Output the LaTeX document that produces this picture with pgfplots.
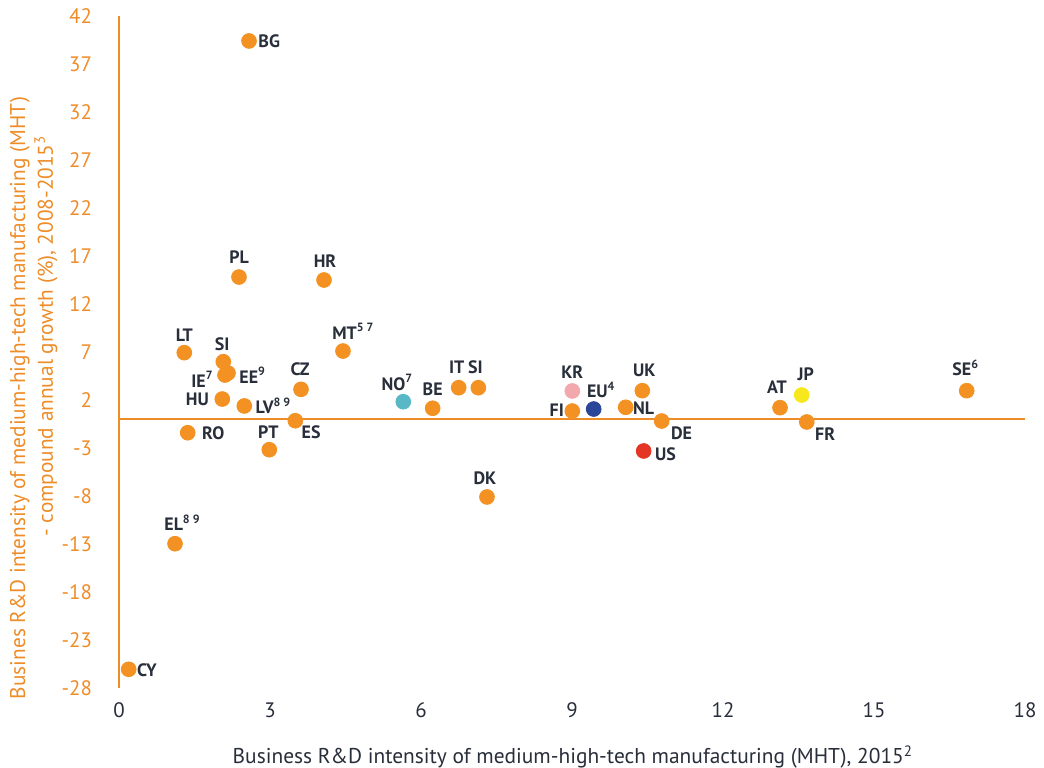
\documentclass[border=0pt]{standalone}
\usepackage{pgfplots}
\pgfplotsset{compat=1.18}
\usepackage{pgfplotstable}
\usepackage{fontspec}
\setmainfont{PT Sans}
\definecolor{eor}{RGB}{243,146,35}
\definecolor{axor}{RGB}{238,140,40}
\definecolor{dark}{RGB}{40,46,58}
\definecolor{krpink}{RGB}{242,168,172}
\definecolor{eublue}{RGB}{41,70,152}
\definecolor{usred}{RGB}{228,54,36}
\definecolor{noteal}{RGB}{88,184,198}
\definecolor{jpyel}{RGB}{246,232,28}
\tikzset{lbl/.style={font=\fontsize{9}{10}\selectfont\bfseries, text=dark, inner sep=0pt}}
\pgfplotsset{dot/.style={only marks, mark=*, mark size=3.7bp, color=#1, mark options={draw=none, fill=#1}}}
\pgfplotstableread{
x y
2.583 39.40
2.384 14.81
4.073 14.50
1.297 6.93
4.450 7.10
2.072 5.99
2.106 4.60
2.166 4.81
3.616 3.11
2.052 2.10
2.489 1.38
3.503 -0.16
1.365 -1.41
2.986 -3.18
6.232 1.14
6.749 3.28
7.139 3.28
7.311 -8.10
9.006 0.85
10.397 2.97
10.067 1.24
10.782 -0.19
13.133 1.20
13.664 -0.29
16.842 2.97
1.113 -12.97
0.193 -26.05
}\orangepts
\begin{document}
\begin{tikzpicture}
\useasboundingbox (-59.5bp,-40bp) rectangle (462.5bp,344bp);
\begin{axis}[
  at={(0,0)}, anchor=south west,
  scale only axis, width=453bp, height=336bp,
  xmin=0, xmax=18, ymin=-28, ymax=42,
  xtick={0,3,...,18}, ytick={-28,-23,...,42},
  axis line style={draw=none}, major tick length=0pt,
  tick label style={font=\fontsize{10.5}{12}\selectfont},
  yticklabel style={text=axor, xshift=-10bp},
  xticklabel style={text=dark, yshift=-4bp},
  /pgf/number format/assume math mode=true,
  clip=false,
]
\addplot[axor, line width=0.9pt, no marks] coordinates {(0,-28) (0,42)};
\addplot[axor, line width=0.9pt, no marks] coordinates {(0,0) (18,0)};
\addplot[dot=eor] table[x=x,y=y] {\orangepts};
\addplot[dot=noteal] coordinates {(5.648,1.82)};
\addplot[dot=krpink] coordinates {(9.006,2.94)};
\addplot[dot=eublue] coordinates {(9.431,1.06)};
\addplot[dot=usred] coordinates {(10.424,-3.31)};
\addplot[dot=jpyel] coordinates {(13.564,2.52)};
% labels
\node[lbl, anchor=west] at ([shift={(4.5bp,0bp)}]axis cs:2.583,39.40) {BG};
\node[lbl] at ([shift={(0bp,10bp)}]axis cs:2.384,14.81) {PL};
\node[lbl] at ([shift={(0.5bp,9.5bp)}]axis cs:4.073,14.50) {HR};
\node[lbl] at ([shift={(0bp,8.5bp)}]axis cs:1.297,6.93) {LT};
\node[lbl, anchor=west] at ([shift={(-5.5bp,10bp)}]axis cs:4.450,7.10) {MT\textsuperscript{5 7}};
\node[lbl] at ([shift={(-0.5bp,8.5bp)}]axis cs:2.072,5.99) {SI};
\node[lbl, anchor=east] at ([shift={(-5.5bp,-2bp)}]axis cs:2.106,4.60) {IE\textsuperscript{7}};
\node[lbl, anchor=west] at ([shift={(5.5bp,-1bp)}]axis cs:2.166,4.81) {EE\textsuperscript{9}};
\node[lbl] at ([shift={(-0.5bp,10bp)}]axis cs:3.616,3.11) {CZ};
\node[lbl, anchor=east] at ([shift={(-6.5bp,0bp)}]axis cs:2.052,2.10) {HU};
\node[lbl, anchor=west] at ([shift={(5.5bp,0bp)}]axis cs:2.489,1.38) {LV\textsuperscript{8 9}};
\node[lbl, anchor=west] at ([shift={(3bp,-5.5bp)}]axis cs:3.503,-0.16) {ES};
\node[lbl, anchor=west] at ([shift={(7bp,0bp)}]axis cs:1.365,-1.41) {RO};
\node[lbl] at ([shift={(-0.5bp,9bp)}]axis cs:2.986,-3.18) {PT};
\node[lbl, anchor=west] at ([shift={(-11bp,9.5bp)}]axis cs:5.648,1.82) {NO\textsuperscript{7}};
\node[lbl] at ([shift={(0bp,9.5bp)}]axis cs:6.232,1.14) {BE};
\node[lbl] at ([shift={(-1bp,10bp)}]axis cs:6.749,3.28) {IT};
\node[lbl] at ([shift={(-1.5bp,10bp)}]axis cs:7.139,3.28) {SI};
\node[lbl] at ([shift={(-1bp,9.5bp)}]axis cs:7.311,-8.10) {DK};
\node[lbl] at ([shift={(0bp,9.5bp)}]axis cs:9.006,2.94) {KR};
\node[lbl, anchor=east] at ([shift={(-4bp,0.5bp)}]axis cs:9.006,0.85) {FI};
\node[lbl, anchor=west] at ([shift={(-3.5bp,9.5bp)}]axis cs:9.431,1.06) {EU\textsuperscript{4}};
\node[lbl] at ([shift={(1bp,10bp)}]axis cs:10.397,2.97) {UK};
\node[lbl, anchor=west] at ([shift={(3.5bp,-0.5bp)}]axis cs:10.067,1.24) {NL};
\node[lbl, anchor=west] at ([shift={(4.5bp,-6bp)}]axis cs:10.782,-0.19) {DE};
\node[lbl, anchor=west] at ([shift={(5.5bp,-1.5bp)}]axis cs:10.424,-3.31) {US};
\node[lbl] at ([shift={(-1.5bp,10.5bp)}]axis cs:13.133,1.20) {AT};
\node[lbl] at ([shift={(2bp,10.5bp)}]axis cs:13.564,2.52) {JP};
\node[lbl, anchor=west] at ([shift={(4bp,-6bp)}]axis cs:13.664,-0.29) {FR};
\node[lbl] at ([shift={(-0.5bp,11.5bp)}]axis cs:16.842,2.97) {SE\textsuperscript{6}};
\node[lbl, anchor=west] at ([shift={(-5.5bp,10.5bp)}]axis cs:1.113,-12.97) {EL\textsuperscript{8 9}};
\node[lbl, anchor=west] at ([shift={(4bp,-0.5bp)}]axis cs:0.193,-26.05) {CY};
% axis titles
\node[font=\fontsize{10.75}{12}\selectfont, text=dark] at ([yshift=-34.5bp]rel axis cs:0.501,0) {Business R\&D intensity of medium-high-tech manufacturing (MHT), 2015\textsuperscript{2}};
\node[font=\fontsize{10.7}{12}\selectfont, text=axor, rotate=90] at ([xshift=-49.5bp]rel axis cs:0,0.4315) {Busines R\&D intensity of medium-high-tech manufacturing (MHT)};
\node[font=\fontsize{10.7}{12}\selectfont, text=axor, rotate=90] at ([xshift=-36.5bp]rel axis cs:0,0.524) {- compound annual growth (\%), 2008-2015\textsuperscript{3}};
\end{axis}
\end{tikzpicture}
\end{document}
